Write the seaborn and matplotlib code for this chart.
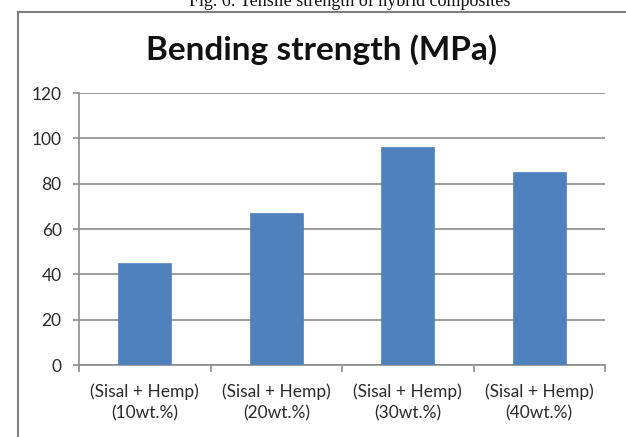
import matplotlib
matplotlib.use("Agg")
import matplotlib.pyplot as plt
import seaborn as sns
import pandas as pd
from matplotlib.patches import Rectangle

categories = ["(Sisal + Hemp)\n(10wt.%)", "(Sisal + Hemp)\n(20wt.%)",
              "(Sisal + Hemp)\n(30wt.%)", "(Sisal + Hemp)\n(40wt.%)"]
values = [45, 67, 96, 85]
yticks = [0, 20, 40, 60, 80, 100, 120]

sns.set_theme(style="white")
plt.rcParams['font.family'] = ['Lato', 'DejaVu Sans']

W, H = 626, 437
fig = plt.figure(figsize=(W / 100, H / 100), dpi=100)
fig.patch.set_facecolor("white")
ax = fig.add_axes([79 / W, 1 - 365 / H, (605 - 79) / W, (365 - 93) / H])

df = pd.DataFrame({"cat": categories, "val": values})
sns.barplot(data=df, x="cat", y="val", ax=ax, color="#4F81BD", width=0.4,
            saturation=1, edgecolor="#4F81BD", linewidth=0.5, zorder=3)

grid_c = "#8c8c8c"
ax.set_ylim(0, 120)
ax.set_xlim(-0.5, len(categories) - 0.5)
ax.set_yticks(yticks)
ax.yaxis.grid(True, color=grid_c, linewidth=1.2, zorder=0)
ax.set_axisbelow(True)
for s in ["top", "right"]:
    ax.spines[s].set_visible(False)
for s in ["left", "bottom"]:
    ax.spines[s].set_color(grid_c)
    ax.spines[s].set_linewidth(1.2)
ax.set_xlabel("")
ax.set_ylabel("")
ax.set_xticks(range(len(categories)), labels=categories, linespacing=1.4)
ax.tick_params(axis="y", which="major", left=True, length=4.5, width=1.2,
               color=grid_c, labelsize=12.5, labelcolor="#2b2b2b", pad=8)
ax.tick_params(axis="x", which="major", bottom=False, labelsize=12.5,
               labelcolor="#2b2b2b", pad=7)
ax.set_xticks([i - 0.5 for i in range(len(categories) + 1)], minor=True)
ax.tick_params(axis="x", which="minor", bottom=True, length=5, width=1.2,
               color=grid_c)

t = ax.set_title("Bending strength (MPa)", fontsize=24, fontweight="bold",
                 color="#111111", pad=0, y=1 + (93 - 50) / (365 - 93),
                 va="center")
t.set_x((322 - 79) / (605 - 79))

# chart frame
fig.patches.append(Rectangle((18 / W, -0.1), 1.2, 1 - 12 / H + 0.1,
                             transform=fig.transFigure, fill=False,
                             edgecolor="#7f7f7f", linewidth=1.5, zorder=0))

# partially visible caption from the document above the chart
fig.text(350 / W, 1 - 6 / H, "Fig. 6: Tensile strength of hybrid composites",
         ha="center", va="baseline", fontsize=13, family="Liberation Serif",
         color="#111111")

fig.savefig("out.png", dpi=100, facecolor="white")
